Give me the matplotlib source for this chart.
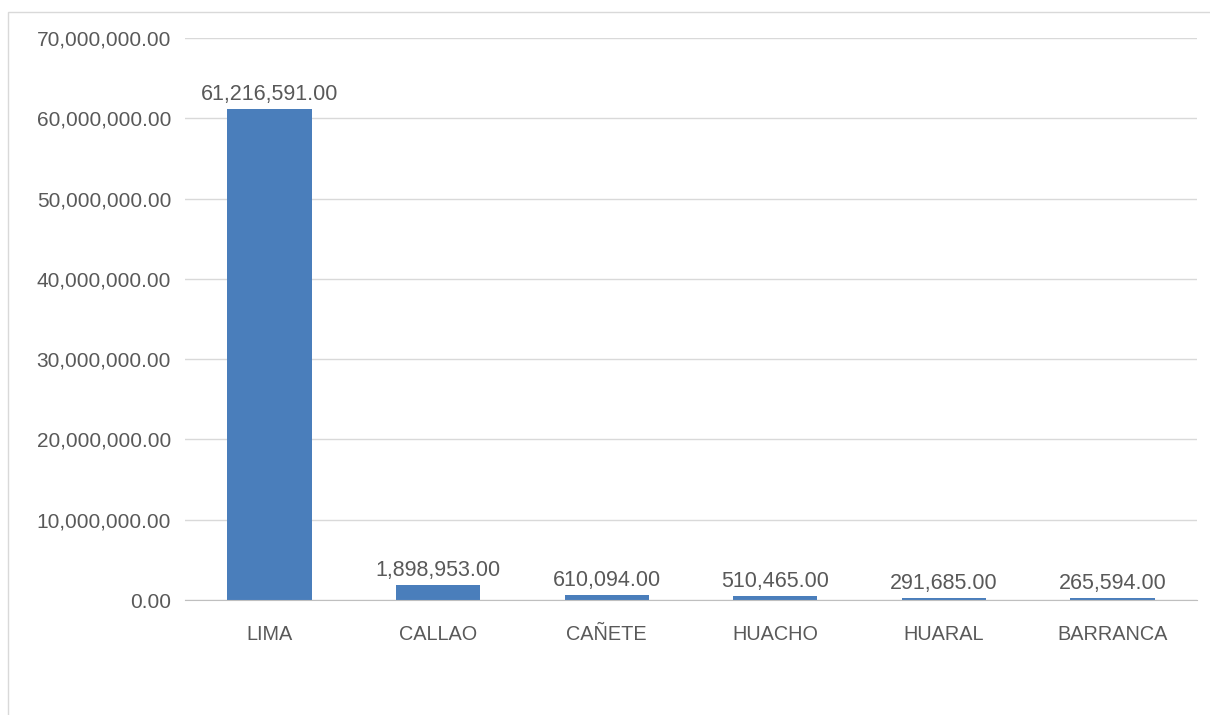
import matplotlib
matplotlib.use("Agg")
import matplotlib.pyplot as plt
from matplotlib.patches import Rectangle
from matplotlib.ticker import FuncFormatter

categories = ["LIMA", "CALLAO", "CAÑETE", "HUACHO", "HUARAL", "BARRANCA"]
values = [61216591.00, 1898953.00, 610094.00, 510465.00, 291685.00, 265594.00]
y_ticks = [0, 10000000, 20000000, 30000000, 40000000, 50000000, 60000000, 70000000]

plt.rcParams['font.family'] = ['Liberation Sans', 'DejaVu Sans']
text_color = "#595959"

fig = plt.figure(figsize=(12.1, 7.15), dpi=100)
# outer chart border
fig.patches.append(Rectangle((8 / 1210, -0.01), 1.02, (715 - 12) / 715 + 0.01,
                             transform=fig.transFigure, fill=False,
                             edgecolor="#D9D9D9", linewidth=1.0))

ax = fig.add_axes([185 / 1210, (715 - 600) / 715, 1012 / 1210, 562 / 715])
x = range(len(categories))
ax.bar(x, values, width=0.5, color="#4A7EBB", zorder=3)

for xi, v in zip(x, values):
    ax.text(xi, v + 500000, f"{v:,.2f}", ha="center", va="bottom",
            fontsize=15.5, color=text_color)

ax.set_xlim(-0.5, len(categories) - 0.5)
ax.set_ylim(0, 70000000)
ax.set_yticks(y_ticks)
ax.yaxis.set_major_formatter(FuncFormatter(lambda v, p: f"{v:,.2f}"))
ax.set_xticks(list(x))
ax.set_xticklabels(categories)
ax.tick_params(axis="both", length=0, labelcolor=text_color)
ax.tick_params(axis="y", pad=10, labelsize=15)
ax.tick_params(axis="x", pad=18, labelsize=14.3)

ax.grid(axis="y", color="#D9D9D9", linewidth=1.0, zorder=0)
for s in ["top", "right", "left"]:
    ax.spines[s].set_visible(False)
ax.spines["bottom"].set_color("#BFBFBF")
ax.spines["bottom"].set_zorder(4)

fig.savefig("out.png", dpi=100)
